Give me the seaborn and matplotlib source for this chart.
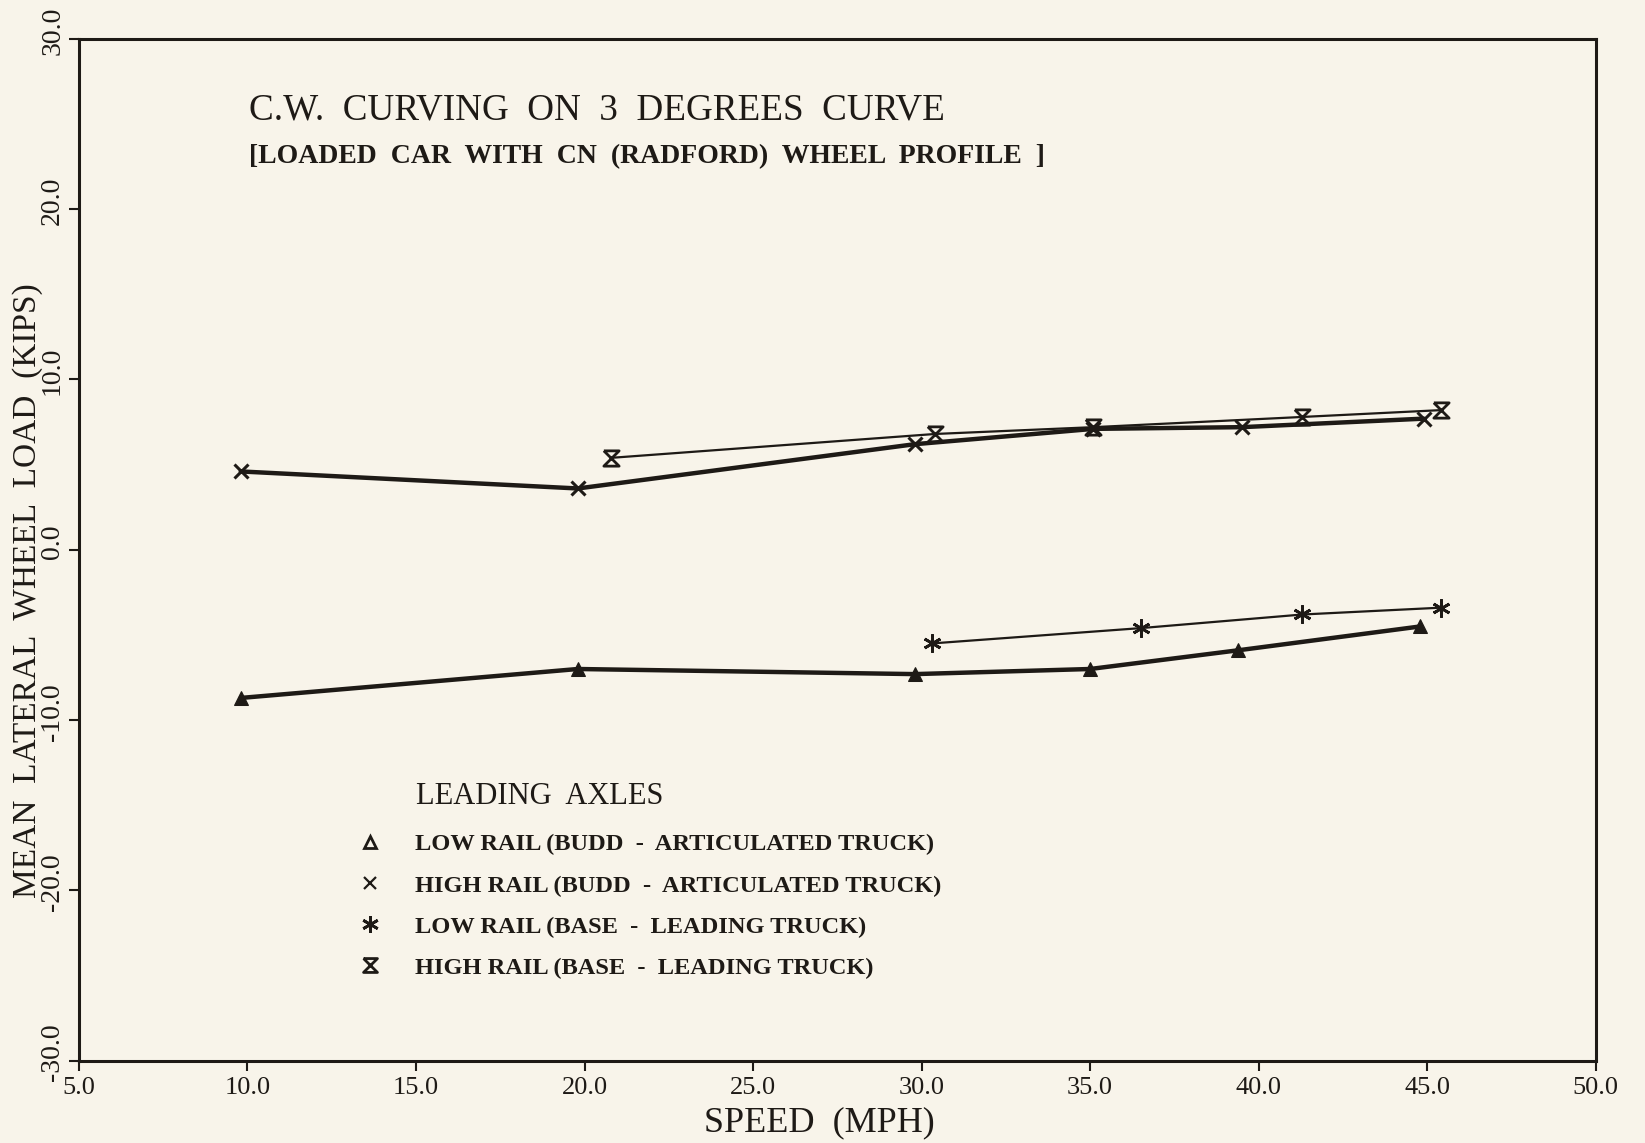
import numpy as np
import pandas as pd
import matplotlib
matplotlib.use("Agg")
import matplotlib.pyplot as plt
import matplotlib.transforms as mtransforms
from matplotlib.lines import Line2D
import seaborn as sns

# values
budd_low_speed = [9.8, 19.8, 29.8, 35.0, 39.4, 44.8]
budd_low_load = [-8.7, -7.0, -7.3, -7.0, -5.9, -4.5]

budd_high_speed = [9.8, 19.8, 29.8, 35.1, 39.5, 44.9]
budd_high_load = [4.6, 3.6, 6.2, 7.1, 7.2, 7.7]

base_low_speed = [30.3, 36.5, 41.3, 45.4]
base_low_load = [-5.5, -4.6, -3.8, -3.4]

base_high_speed = [20.8, 30.4, 35.1, 41.3, 45.4]
base_high_load = [5.4, 6.8, 7.2, 7.8, 8.2]

labels = ['LOW RAIL (BUDD  -  ARTICULATED TRUCK)',
          'HIGH RAIL (BUDD  -  ARTICULATED TRUCK)',
          'LOW RAIL (BASE  -  LEADING TRUCK)',
          'HIGH RAIL (BASE  -  LEADING TRUCK)']

x_ticks = [5, 10, 15, 20, 25, 30, 35, 40, 45, 50]
y_ticks = [-30, -20, -10, 0, 10, 20, 30]

paper = '#f8f4ea'
ink = '#1e1a16'
hourglass = [(-1, 1), (1, 1), (-1, -1), (1, -1), (-1, 1)]
star = (6, 2, 0)

sns.set_style("ticks")
plt.rcParams['font.family'] = ['Liberation Serif', 'DejaVu Serif']

fig = plt.figure(figsize=(16.45, 11.43), dpi=100, facecolor=paper)
ax = fig.add_axes([0.048, 0.072, 0.922, 0.894], facecolor=paper)

sns.lineplot(x=budd_low_speed, y=budd_low_load, ax=ax, color=ink, linewidth=3.2,
             marker='^', markersize=10, markeredgecolor=ink, sort=False)
sns.lineplot(x=budd_high_speed, y=budd_high_load, ax=ax, color=ink, linewidth=3.2,
             marker='x', markersize=10, markeredgecolor=ink, markeredgewidth=2.2, sort=False)
sns.lineplot(x=base_low_speed, y=base_low_load, ax=ax, color=ink, linewidth=1.6,
             marker=star, markersize=13, markeredgecolor=ink, markeredgewidth=2, sort=False)
sns.lineplot(x=base_high_speed, y=base_high_load, ax=ax, color=ink, linewidth=1.6,
             marker=hourglass, markersize=11, markerfacecolor='none',
             markeredgecolor=ink, markeredgewidth=2, sort=False)

ax.set_xlim(5, 50)
ax.set_ylim(-30, 30)
ax.set_xticks(x_ticks)
ax.set_yticks(y_ticks)
ax.set_xticklabels(['%.1f' % v for v in x_ticks], fontsize=19)
ax.set_yticklabels(['%.1f' % v for v in y_ticks], fontsize=20, rotation=90, va='center')
ax.tick_params(direction='out', length=7.5, width=1.5, colors=ink)
ax.tick_params(axis='x', pad=4)
ax.tick_params(axis='y', pad=2.5)
# the y tick labels sit a little above their ticks in the original
shift = mtransforms.ScaledTranslation(0, 6 / 72, fig.dpi_scale_trans)
for lab in ax.get_yticklabels():
    lab.set_transform(lab.get_transform() + shift)
for s in ax.spines.values():
    s.set_visible(True)
    s.set_linewidth(2.2)
    s.set_color(ink)

ax.set_xlabel('SPEED  (MPH)', fontsize=26, color=ink)
ax.set_ylabel('MEAN  LATERAL  WHEEL  LOAD  (KIPS)', fontsize=24, color=ink)
ax.xaxis.set_label_coords(0.488, -0.045)
ax.yaxis.set_label_coords(-0.024, 0.46)

ax.text(10.05, 25.8, 'C.W.  CURVING  ON  3  DEGREES  CURVE', fontsize=26.7,
        color=ink, va='center', ha='left')
ax.text(10.05, 23.1, '[LOADED  CAR  WITH  CN  (RADFORD)  WHEEL  PROFILE  ]', fontsize=20,
        color=ink, va='center', ha='left', fontweight='bold')

# legend
ax.text(15.0, -14.5, 'LEADING  AXLES', fontsize=22, color=ink, va='center', ha='left')
handles = [
    Line2D([], [], linestyle='none', marker='^', markersize=9, markerfacecolor='none',
           markeredgecolor=ink, markeredgewidth=2),
    Line2D([], [], linestyle='none', marker='x', markersize=9, markeredgecolor=ink,
           markeredgewidth=1.6),
    Line2D([], [], linestyle='none', marker=star, markersize=12, markeredgecolor=ink,
           markeredgewidth=2),
    Line2D([], [], linestyle='none', marker=hourglass, markersize=10, markerfacecolor='none',
           markeredgecolor=ink, markeredgewidth=2),
]
leg = ax.legend(handles, labels, loc='upper left', bbox_to_anchor=(13.26, -16.65),
                bbox_transform=ax.transData, frameon=False, handlelength=1.0,
                handletextpad=1.35, labelspacing=0.78, borderaxespad=0, borderpad=0,
                prop={'weight': 'bold', 'size': 17.6})
for t in leg.get_texts():
    t.set_color(ink)

fig.savefig('out.png', dpi=100, facecolor=paper)
